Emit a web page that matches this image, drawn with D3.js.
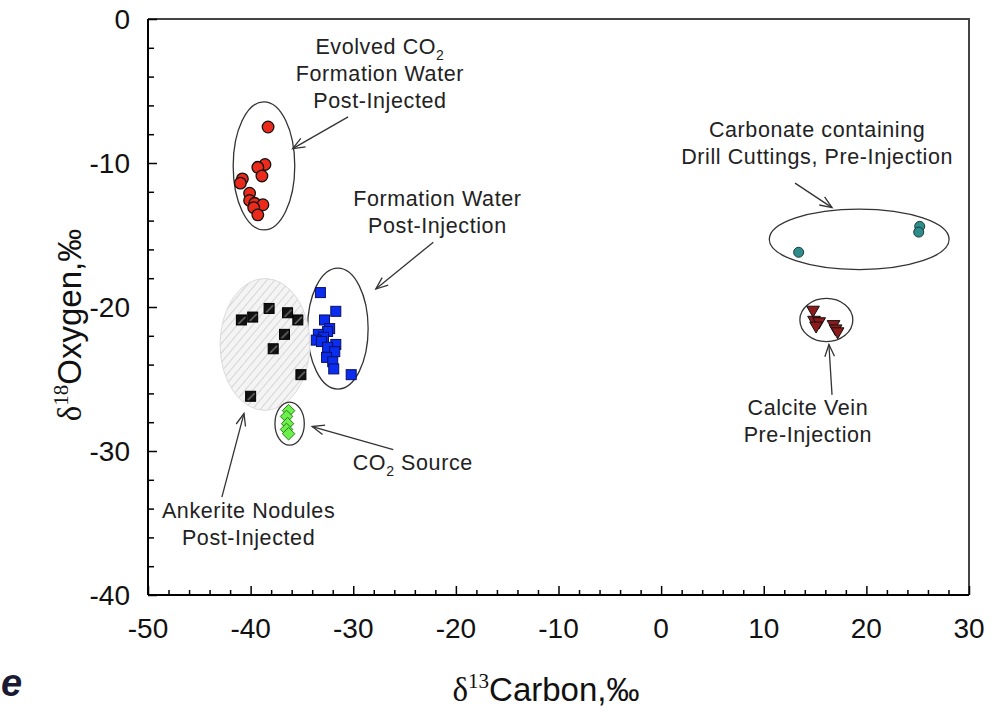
<!DOCTYPE html>
<html>
<head>
<meta charset="utf-8">
<script src="https://cdn.jsdelivr.net/npm/d3@7"></script>
<style>
  html, body { margin: 0; padding: 0; background: #fff; }
  svg { display: block; }
  text { font-family: "Liberation Sans", Arial, sans-serif; }
</style>
</head>
<body>
<svg id="chart" width="999" height="712"></svg>
<script>
// Axis ticks
const xTicks = [-50, -40, -30, -20, -10, 0, 10, 20, 30];
const yTicks = [0, -10, -20, -30, -40];

// Evolved CO2, formation water post-injection (δ13C, δ18O)
const evolvedC = [-38.3, -38.6, -39.3, -38.9, -40.8, -41.0, -40.1, -40.1, -39.6, -38.8, -39.7, -39.3];
const evolvedO = [-7.5, -10.1, -10.3, -10.9, -11.1, -11.4, -12.1, -12.6, -12.8, -12.9, -13.1, -13.6];

// Formation water post-injection
const waterC = [-33.2, -31.7, -32.8, -32.3, -32.5, -33.4, -32.9, -33.6, -33.1, -31.7, -32.5, -31.8, -32.6, -32.0, -31.9, -30.2];
const waterO = [-19.0, -20.3, -20.9, -21.5, -21.7, -21.9, -22.1, -22.3, -22.4, -22.6, -22.8, -23.1, -23.5, -23.8, -24.3, -24.7];

// Ankerite nodules post-injected
const ankeriteC = [-40.9, -39.8, -38.2, -36.4, -35.4, -36.7, -37.8, -35.1, -40.0];
const ankeriteO = [-20.9, -20.7, -20.1, -20.4, -20.9, -21.9, -22.9, -24.7, -26.2];

// CO2 source
const sourceC = [-36.3, -36.5, -36.4, -36.5, -36.3];
const sourceO = [-27.2, -27.6, -28.1, -28.5, -28.8];

// Carbonate-containing drill cuttings, pre-injection
const cuttingsC = [13.4, 25.2, 25.1];
const cuttingsO = [-16.2, -14.4, -14.8];

// Calcite vein, pre-injection
const veinC = [14.8, 14.9, 15.4, 15.1, 16.8, 17.0, 17.2];
const veinO = [-20.2, -20.9, -21.0, -21.3, -21.2, -21.5, -21.7];

// Group envelopes in data units: centre (c, o) and half-widths (dc, do)
const envNames = ["evolved", "water", "ankerite", "source", "cuttings", "vein"];
const envC  = [-38.7, -31.5, -38.6, -36.2, 19.3, 16.1];
const envO  = [-10.2, -21.5, -22.6, -28.1, -15.3, -20.9];
const envDC = [3.0, 2.95, 4.38, 1.43, 8.76, 2.58];
const envDO = [4.45, 4.2, 4.58, 1.49, 2.1, 1.5];

// Annotation texts, anchor (data units) and arrow from/to (data units)
const noteLines = [
  ["Evolved CO|2", "Formation Water", "Post-Injected"],
  ["Formation Water", "Post-Injection"],
  ["Carbonate containing", "Drill Cuttings, Pre-Injection"],
  ["Calcite Vein", "Pre-Injection"],
  ["CO|2 Source"],
  ["Ankerite Nodules", "Post-Injected"]
];
const noteC = [-27.4, -21.8, 15.2, 14.3, -24.2, -40.2];
const noteO = [-1.94, -12.5, -7.7, -27.0, -30.8, -34.2];
const arrowFromC = [-30.5, -22.2, 13.05, 16.65, -26.1, -42.8];
const arrowFromO = [-6.8, -15.5, -11.4, -26.1, -29.9, -33.2];
const arrowToC = [-35.9, -27.8, 16.65, 16.35, -34.0, -40.65];
const arrowToO = [-9.0, -18.75, -13.1, -22.6, -28.3, -27.4];

const svg = d3.select("#chart");
const x = d3.scaleLinear().domain([-50, 30]).range([148, 969]);
const y = d3.scaleLinear().domain([-40, 0]).range([595, 19]);

// hatch pattern for the ankerite envelope
const defs = svg.append("defs");
const hatch = defs.append("pattern").attr("id", "hatch")
  .attr("patternUnits", "userSpaceOnUse").attr("width", 6).attr("height", 6)
  .attr("patternTransform", "rotate(40)");
hatch.append("rect").attr("width", 6).attr("height", 6).attr("fill", "#f4f4f4");
hatch.append("line").attr("x1", 0).attr("y1", 0).attr("x2", 0).attr("y2", 6)
  .attr("stroke", "#c4c4c4").attr("stroke-width", 1.3);

// marker pattern for ankerite squares
const sq = defs.append("pattern").attr("id", "sqfill")
  .attr("patternUnits", "objectBoundingBox").attr("width", 1).attr("height", 1);
sq.append("rect").attr("width", 10).attr("height", 10).attr("fill", "#111");
sq.append("line").attr("x1", 2).attr("y1", 9).attr("x2", 9).attr("y2", 2)
  .attr("stroke", "#777").attr("stroke-width", 1.2);

// envelopes
const env = svg.append("g");
envNames.forEach((n, i) => {
  const cx = x(envC[i]), cy = y(envO[i]);
  const rx = x(envC[i] + envDC[i]) - cx, ry = cy - y(envO[i] + envDO[i]);
  const e = env.append("ellipse").attr("cx", cx).attr("cy", cy).attr("rx", rx).attr("ry", ry);
  if (n === "ankerite") e.attr("fill", "url(#hatch)").attr("stroke", "#dcdcdc").attr("stroke-width", 1);
  else e.attr("fill", "none").attr("stroke", "#333").attr("stroke-width", 1.3);
});

// frame
svg.append("path")
  .attr("d", `M${x(-50)},${y(0)}H${x(30)}V${y(-40)}`)
  .attr("fill", "none").attr("stroke", "#444").attr("stroke-width", 2);

// axes with inward ticks
const xAxis = svg.append("g").attr("transform", `translate(0,${y(-40)})`);
xAxis.call(d3.axisBottom(x).tickValues(d3.range(-50, 31, 2)).tickSize(-5).tickFormat(""));
xAxis.selectAll(".tick line").attr("stroke-width", 1.5)
  .attr("y2", d => (d % 10 === 0 ? -9 : -5));
xAxis.select(".domain").attr("stroke-width", 2).attr("d", `M${x(-50)},0H${x(30)}`);
xTicks.forEach(t => {
  xAxis.append("text").attr("x", x(t)).attr("y", 43).attr("text-anchor", "middle")
    .attr("font-size", 28).attr("fill", "#111").text(t);
});

const yAxis = svg.append("g").attr("transform", `translate(${x(-50)},0)`);
yAxis.call(d3.axisLeft(y).tickValues(d3.range(-40, 1, 2)).tickSize(-5).tickFormat(""));
yAxis.selectAll(".tick line").attr("stroke-width", 1.5)
  .attr("x2", d => (d % 10 === 0 ? 9 : 6));
yAxis.select(".domain").attr("stroke-width", 2).attr("d", `M0,${y(0)}V${y(-40)}`);
yTicks.forEach(t => {
  yAxis.append("text").attr("x", -18).attr("y", y(t)).attr("dy", "0.36em")
    .attr("text-anchor", "end").attr("font-size", 28).attr("fill", "#111").text(t);
});

// axis titles
const serif = "Liberation Serif, Times New Roman, serif";
const xt = svg.append("text").attr("x", 546).attr("y", 701).attr("text-anchor", "middle")
  .attr("font-size", 33).attr("fill", "#111");
xt.append("tspan").attr("font-family", serif).text("δ");
xt.append("tspan").attr("font-family", serif).attr("font-size", 21).attr("dy", -13).text("13");
xt.append("tspan").attr("dy", 13).text("Carbon,‰");

const yt = svg.append("text").attr("transform", "translate(81,325) rotate(-90)")
  .attr("text-anchor", "middle").attr("font-size", 33).attr("fill", "#111");
yt.append("tspan").attr("font-family", serif).text("δ");
yt.append("tspan").attr("font-family", serif).attr("font-size", 21).attr("dy", -13).text("18");
yt.append("tspan").attr("dy", 13).text("Oxygen,‰");

// data points
const pts = svg.append("g");
const pairs = (a, b) => a.map((v, i) => [v, b[i]]);

pts.selectAll(".evolved").data(pairs(evolvedC, evolvedO)).join("circle")
  .attr("cx", d => x(d[0])).attr("cy", d => y(d[1])).attr("r", 5.8)
  .attr("fill", "#ec2a1c").attr("stroke", "#111").attr("stroke-width", 1.3);

pts.selectAll(".water").data(pairs(waterC, waterO)).join("rect")
  .attr("x", d => x(d[0]) - 5).attr("y", d => y(d[1]) - 5).attr("width", 10).attr("height", 10)
  .attr("fill", "#0a2df0").attr("stroke", "#0a1060").attr("stroke-width", 1);

pts.selectAll(".ankerite").data(pairs(ankeriteC, ankeriteO)).join("rect")
  .attr("x", d => x(d[0]) - 5).attr("y", d => y(d[1]) - 5).attr("width", 10).attr("height", 10)
  .attr("fill", "url(#sqfill)").attr("stroke", "#000").attr("stroke-width", 1);

pts.selectAll(".source").data(pairs(sourceC, sourceO)).join("path")
  .attr("d", d3.symbol(d3.symbolDiamond2, 100))
  .attr("transform", d => `translate(${x(d[0])},${y(d[1])})`)
  .attr("fill", "#6cf04c").attr("stroke", "#2a7a1a").attr("stroke-width", 1);

pts.selectAll(".cuttings").data(pairs(cuttingsC, cuttingsO)).join("circle")
  .attr("cx", d => x(d[0])).attr("cy", d => y(d[1])).attr("r", 5)
  .attr("fill", "#2e8c8a").attr("stroke", "#1a3a3a").attr("stroke-width", 1);

const tri = d3.symbol(d3.symbolTriangle, 70);
pts.selectAll(".vein").data(pairs(veinC, veinO)).join("path")
  .attr("d", tri)
  .attr("transform", d => `translate(${x(d[0])},${y(d[1])}) rotate(180)`)
  .attr("fill", "#8e1a1a").attr("stroke", "#111").attr("stroke-width", 1);

// annotations
const notes = svg.append("g").attr("fill", "#222").attr("font-size", 21.5)
  .attr("letter-spacing", 0.6);
noteLines.forEach((lines, i) => {
  lines.forEach((ln, j) => {
    const t = notes.append("text").attr("x", x(noteC[i])).attr("y", y(noteO[i]) + 7 + j * 27)
      .attr("text-anchor", "middle");
    const parts = ln.split("|");
    t.append("tspan").text(parts[0]);
    if (parts.length > 1) {
      const rest = parts[1];
      t.append("tspan").attr("font-size", 14).attr("dy", 6).text(rest[0]);
      if (rest.length > 1) t.append("tspan").attr("dy", -6).text(rest.slice(1));
    }
  });
});

// arrows with open heads
const arr = svg.append("g").attr("stroke", "#333").attr("stroke-width", 1.3).attr("fill", "none");
arrowFromC.forEach((c, i) => {
  const x1 = x(c), y1 = y(arrowFromO[i]), x2 = x(arrowToC[i]), y2 = y(arrowToO[i]);
  const a = Math.atan2(y2 - y1, x2 - x1), L = 13, w = 0.38;
  arr.append("line").attr("x1", x1).attr("y1", y1).attr("x2", x2).attr("y2", y2);
  arr.append("path").attr("d",
    `M${x2 - L * Math.cos(a - w)},${y2 - L * Math.sin(a - w)}L${x2},${y2}L${x2 - L * Math.cos(a + w)},${y2 - L * Math.sin(a + w)}`);
});

// fragment of a caption at the lower-left edge
svg.append("text").attr("x", 1).attr("y", 696).attr("font-size", 38)
  .attr("font-weight", "bold").attr("font-style", "italic").attr("fill", "#1a1a33").text("e");
</script>
</body>
</html>
